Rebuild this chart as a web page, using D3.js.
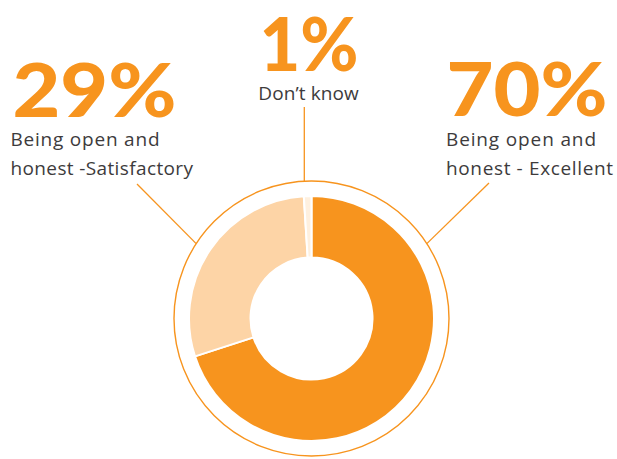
<!DOCTYPE html>
<html>
<head>
<meta charset="utf-8">
<script src="https://cdn.jsdelivr.net/npm/d3@7"></script>
<style>
  html, body { margin: 0; padding: 0; background: #ffffff; }
  svg { display: block; }
</style>
</head>
<body>
<svg id="chart" width="617" height="459"></svg>
<script>
// Survey responses: "Being open and honest"
const categories = ["Excellent", "Satisfactory", "Don’t know"];
const values = [70, 29, 1];
const labelLines = [
  ["Being open and", "honest - Excellent"],
  ["Being open and", "honest -Satisfactory"],
  ["Don’t know"]
];
const sliceColors = ["#f7941e", "#fdd4a6", "#fef0df"];

const cx = 311.5, cy = 318.5;
const innerR = 61, outerR = 122.5, ringR = 137.5;
const orange = "#f7941e";
const textColor = "#3d3b3c";

const svg = d3.select("#chart");

// Donut
const pie = d3.pie().sort(null).value(d => d).startAngle(0).endAngle(2 * Math.PI);
const arc = d3.arc().innerRadius(innerR).outerRadius(outerR);
const g = svg.append("g").attr("transform", `translate(${cx},${cy})`);
g.selectAll("path.slice")
  .data(pie(values))
  .join("path")
  .attr("class", "slice")
  .attr("d", arc)
  .attr("fill", (d, i) => sliceColors[i])
  .attr("stroke", "#ffffff")
  .attr("stroke-width", 2)
  .attr("stroke-linejoin", "miter");

// Thin outer ring
g.append("circle")
  .attr("r", ringR)
  .attr("fill", "none")
  .attr("stroke", orange)
  .attr("stroke-width", 1.4);

// Annotation layout per category: big number position/width, leader start, ring angle (deg from top)
const layout = [
  { x: 446.5, y: 115.5, w: 161, lineFrom: [489, 183], ringDeg: 57 },
  { x: 12.5, y: 116.5, w: 164, lineFrom: [137, 184], ringDeg: -57 },
  { x: 259.5, y: 70.5, w: 99, lineFrom: [304.3, 107], ringDeg: -3 }
];

const ann = svg.append("g");
values.forEach((v, i) => {
  const L = layout[i];
  const a = L.ringDeg * Math.PI / 180;
  ann.append("line")
    .attr("x1", L.lineFrom[0]).attr("y1", L.lineFrom[1])
    .attr("x2", cx + ringR * Math.sin(a)).attr("y2", cy - ringR * Math.cos(a))
    .attr("stroke", orange)
    .attr("stroke-width", 1.3);

  ann.append("text")
    .attr("x", L.x).attr("y", L.y)
    .attr("font-family", "Lato, 'Open Sans', sans-serif")
    .attr("font-weight", 900)
    .attr("font-size", 74)
    .attr("fill", orange)
    .attr("textLength", L.w)
    .attr("lengthAdjust", "spacingAndGlyphs")
    .text(v + "%");
});

// Description lines (x, first baseline, line height, line widths)
const desc = [
  { x: 446, y: 146, lh: 29, anchor: "start", widths: [150, 167] },
  { x: 10.5, y: 146, lh: 29, anchor: "start", widths: [149, 182.5] },
  { x: 308.5, y: 99.5, lh: 29, anchor: "middle", widths: [100.5] }
];
labelLines.forEach((lines, i) => {
  const D = desc[i];
  lines.forEach((t, j) => {
    ann.append("text")
      .attr("x", D.x).attr("y", D.y + j * D.lh)
      .attr("text-anchor", D.anchor)
      .attr("font-family", "'Open Sans', Lato, sans-serif")
      .attr("font-size", 19)
      .attr("fill", textColor)
      .attr("textLength", D.widths[j])
      .attr("lengthAdjust", "spacing")
      .text(t);
  });
});
</script>
</body>
</html>
